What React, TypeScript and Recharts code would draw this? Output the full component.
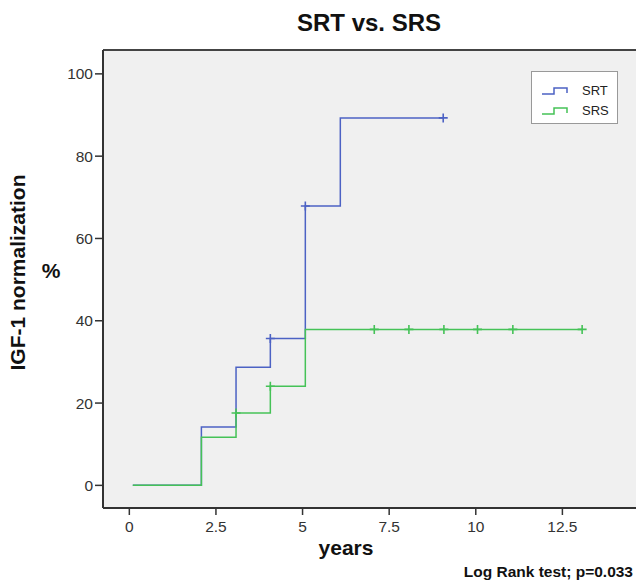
import React from "react";
import {
  ComposedChart,
  Line,
  Scatter,
  XAxis,
  YAxis,
  CartesianGrid,
  ReferenceLine,
} from "recharts";

// step points (years, cumulative %)
const srtSteps = [
  { x: 0.1, y: 0 },
  { x: 2.08, y: 14.2 },
  { x: 3.08, y: 28.7 },
  { x: 4.07, y: 35.7 },
  { x: 5.08, y: 67.9 },
  { x: 6.09, y: 89.3 },
  { x: 9.06, y: 89.3 },
];
const srsSteps = [
  { x: 0.1, y: 0 },
  { x: 2.08, y: 11.7 },
  { x: 3.08, y: 17.6 },
  { x: 4.07, y: 24.1 },
  { x: 5.08, y: 37.9 },
  { x: 13.07, y: 37.9 },
];
// censored observations
const srtCensored = [
  { x: 4.07, y: 35.7 },
  { x: 5.08, y: 67.9 },
  { x: 9.06, y: 89.3 },
];
const srsCensored = [
  { x: 3.08, y: 17.6 },
  { x: 4.07, y: 24.1 },
  { x: 7.07, y: 37.9 },
  { x: 8.07, y: 37.9 },
  { x: 9.08, y: 37.9 },
  { x: 10.05, y: 37.9 },
  { x: 11.07, y: 37.9 },
  { x: 13.07, y: 37.9 },
];
const xTicks = [0, 2.5, 5, 7.5, 10, 12.5];
const yTicks = [0, 20, 40, 60, 80, 100];
const legendItems = [
  { name: "SRT", color: "#4c62c4" },
  { name: "SRS", color: "#45c257" },
];

const BLUE = "#4c62c4";
const GREEN = "#45c257";
const FONT = "'Liberation Sans', Arial, sans-serif";
const X_MIN = -0.76;
const X_MAX = 14.74;
const Y_MIN = -5.5;
const Y_MAX = 105.8;

const Cross = (color: string) => (props: any) => {
  const { cx, cy } = props;
  return (
    <path
      d={`M${cx - 4.5},${cy}H${cx + 4.5}M${cx},${cy - 4.5}V${cy + 4.5}`}
      stroke={color}
      strokeWidth={1.6}
      fill="none"
    />
  );
};

const StepIcon = ({ color }: { color: string }) => (
  <svg width={28} height={10} style={{ display: "block" }}>
    <path d="M1,8H13V2H26V7" stroke={color} strokeWidth={1.5} fill="none" />
  </svg>
);

const LegendBox = () => (
  <div
    style={{
      position: "absolute",
      left: 531,
      top: 71,
      width: 85,
      height: 51,
      background: "#fff",
      border: "1px solid #999",
      fontFamily: FONT,
      fontSize: 13,
      color: "#222",
    }}
  >
    {legendItems.map((e, i) => (
      <div
        key={e.name}
        style={{
          display: "flex",
          alignItems: "center",
          marginTop: i === 0 ? 11 : 4,
          marginLeft: 9,
          lineHeight: "16px",
        }}
      >
        <StepIcon color={e.color} />
        <span style={{ marginLeft: 13 }}>{e.name}</span>
      </div>
    ))}
  </div>
);

export default function App() {
  return (
    <div
      style={{
        position: "absolute",
        left: 0,
        top: 0,
        width: 636,
        height: 582,
        overflow: "hidden",
        background: "#fff",
      }}
    >
      <ComposedChart
        width={640}
        height={582}
        margin={{ top: 50, right: 0, bottom: 0, left: 0 }}
      >
        <CartesianGrid
          horizontal={false}
          vertical={false}
          fill="#f0f0f0"
          fillOpacity={1}
        />
        <XAxis
          type="number"
          dataKey="x"
          domain={[X_MIN, X_MAX]}
          ticks={xTicks}
          allowDataOverflow
          height={74}
          tickSize={7}
          tickMargin={6}
          axisLine={{ stroke: "#333", strokeWidth: 2 }}
          tickLine={{ stroke: "#333", strokeWidth: 1.5 }}
          tick={{ fill: "#333", fontSize: 15.5, fontFamily: FONT }}
        />
        <YAxis
          type="number"
          dataKey="y"
          domain={[Y_MIN, Y_MAX]}
          ticks={yTicks}
          allowDataOverflow
          width={103}
          tickSize={8}
          tickMargin={2}
          axisLine={{ stroke: "#333", strokeWidth: 2 }}
          tickLine={{ stroke: "#333", strokeWidth: 1.5 }}
          tick={{ fill: "#333", fontSize: 15.5, fontFamily: FONT }}
        />
        <ReferenceLine y={Y_MAX} stroke="#444" strokeWidth={2} />
        <Line
          data={srtSteps}
          dataKey="y"
          type="stepAfter"
          stroke={BLUE}
          strokeWidth={1.5}
          dot={false}
          isAnimationActive={false}
        />
        <Line
          data={srsSteps}
          dataKey="y"
          type="stepAfter"
          stroke={GREEN}
          strokeWidth={1.5}
          dot={false}
          isAnimationActive={false}
        />
        <Scatter
          data={srtCensored}
          dataKey="y"
          shape={Cross(BLUE)}
          isAnimationActive={false}
        />
        <Scatter
          data={srsCensored}
          dataKey="y"
          shape={Cross(GREEN)}
          isAnimationActive={false}
        />
      </ComposedChart>
      <LegendBox />
      <svg
        width={636}
        height={582}
        style={{ position: "absolute", left: 0, top: 0, pointerEvents: "none" }}
      >
        <text
          x={369}
          y={31}
          textAnchor="middle"
          fontFamily={FONT}
          fontWeight="bold"
          fontSize={24}
          fill="#111"
        >
          SRT vs. SRS
        </text>
        <text
          x={25}
          y={272.5}
          textAnchor="middle"
          transform="rotate(-90 25 272.5)"
          fontFamily={FONT}
          fontWeight="bold"
          fontSize={21}
          fill="#111"
        >
          IGF-1 normalization
        </text>
        <text
          x={51}
          y={278}
          textAnchor="middle"
          fontFamily={FONT}
          fontWeight="bold"
          fontSize={21}
          fill="#111"
        >
          %
        </text>
        <text
          x={346}
          y={555}
          textAnchor="middle"
          fontFamily={FONT}
          fontWeight="bold"
          fontSize={21}
          fill="#111"
        >
          years
        </text>
        <text
          x={633}
          y={577}
          textAnchor="end"
          fontFamily={FONT}
          fontWeight="bold"
          fontSize={15.5}
          fill="#111"
        >
          Log Rank test; p=0.033
        </text>
      </svg>
    </div>
  );
}
